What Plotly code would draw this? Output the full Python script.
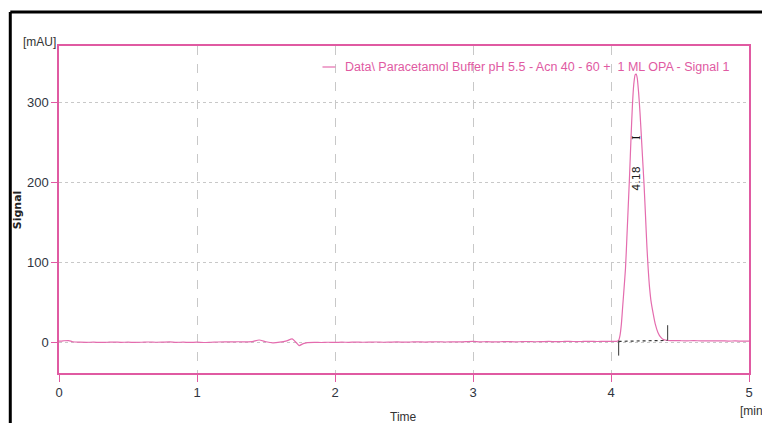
import plotly.graph_objects as go

# Chromatogram: Paracetamol, Buffer pH 5.5 - Acn 40:60 + 1 mL OPA, Signal 1
time_min = [
    0.00, 0.03, 0.07, 0.10, 0.15, 0.20, 0.25, 0.30, 0.35, 0.40, 0.45, 0.50,
    0.55, 0.60, 0.65, 0.70, 0.75, 0.80, 0.85, 0.90, 0.95, 1.00, 1.05, 1.10,
    1.15, 1.20, 1.25, 1.30, 1.35, 1.40, 1.45, 1.50, 1.55, 1.60, 1.65, 1.69,
    1.72, 1.74, 1.77, 1.80, 1.85, 1.90, 1.95, 2.00, 2.05, 2.10, 2.15, 2.20,
    2.25, 2.30, 2.35, 2.40, 2.45, 2.50, 2.55, 2.60, 2.65, 2.70, 2.75, 2.80,
    2.85, 2.90, 2.95, 3.00, 3.05, 3.10, 3.15, 3.20, 3.25, 3.30, 3.35, 3.40,
    3.45, 3.50, 3.55, 3.60, 3.65, 3.70, 3.75, 3.80, 3.85, 3.90, 3.95, 4.00,
    4.040, 4.055, 4.065, 4.075, 4.085, 4.095, 4.105, 4.115, 4.125, 4.135,
    4.145, 4.155, 4.165, 4.175, 4.182, 4.190, 4.200, 4.210, 4.220, 4.230,
    4.240, 4.250, 4.260, 4.270, 4.280, 4.290, 4.305, 4.320, 4.340, 4.360,
    4.380, 4.400, 4.430, 4.50, 4.55, 4.60, 4.65, 4.70, 4.75, 4.80, 4.85,
    4.90, 4.95, 5.00,
]
signal_mau = [
    1.0, 1.5, 1.8, 0.3, -0.2, -0.4, -0.2, -0.5, -0.3, -0.1, -0.4, -0.2,
    -0.5, -0.3, 0.0, -0.3, -0.2, 0.1, -0.4, -0.2, -0.5, -0.2, -0.6, -0.3,
    0.0, 0.2, 0.1, 0.3, 0.2, 0.4, 2.5, 0.3, -1.0, -0.2, 1.5, 3.8,
    -1.0, -4.5, -2.0, -0.8, -0.4, -0.6, -0.3, -0.5, -0.2, -0.4, -0.1, -0.3,
    -0.2, 0.0, -0.3, -0.1, 0.1, -0.2, 0.0, 0.2, -0.1, 0.1, 0.3, 0.0,
    0.2, 0.1, 0.4, 0.8, 0.2, 0.4, 0.1, 0.3, 0.5, 0.2, 0.4, 0.6,
    0.3, 0.5, 0.7, 0.4, 0.6, 0.8, 0.5, 0.7, 0.9, 0.6, 0.8, 0.7,
    0.8, 2.0, 8.0, 22.0, 45.0, 68.0, 92.0, 130.0, 170.0, 210.0,
    255.0, 295.0, 322.0, 334.0, 335.0, 330.0, 312.0, 287.0, 257.0, 226.0,
    195.0, 158.0, 120.0, 90.0, 67.0, 51.0, 36.0, 23.0, 12.0, 6.0,
    3.0, 2.2, 1.8, 1.6, 1.5, 1.7, 1.4, 1.5, 1.3, 1.4, 1.2,
    1.3, 1.1, 1.0,
]

# Integration of the main peak
peak_rt = 4.18
peak_label = "4.18"
baseline_time = [4.055, 4.41]
baseline_mau = [0.8, 2.0]
start_marker_mau = [1.6, -17.0]
end_marker_mau = [21.0, 2.5]
label_mau = 205
marker_mau = 255

trace_name = "Data\\ Paracetamol Buffer pH 5.5 - Acn 40 - 60 +  1 ML OPA - Signal 1"

x_ticks = [0, 1, 2, 3, 4, 5]
y_ticks = [0, 100, 200, 300]

PINK = "#e05aa2"
TRACE_PINK = "#e46cae"
FONT = "Liberation Sans, Arial, sans-serif"

fig = go.Figure()

fig.add_trace(go.Scatter(
    x=time_min, y=signal_mau, mode="lines", name=trace_name,
    line=dict(color=TRACE_PINK, width=1.2, shape="spline", smoothing=0.6),
    showlegend=False,
))

# dotted integration baseline under the peak
fig.add_trace(go.Scatter(
    x=baseline_time, y=baseline_mau, mode="lines",
    line=dict(color="#333333", width=1.2, dash="dot"), showlegend=False,
))
# start / end markers of the integrated peak
fig.add_trace(go.Scatter(
    x=[baseline_time[0]] * 2, y=start_marker_mau, mode="lines",
    line=dict(color="#555555", width=1.2), showlegend=False,
))
fig.add_trace(go.Scatter(
    x=[baseline_time[1]] * 2, y=end_marker_mau, mode="lines",
    line=dict(color="#555555", width=1.2), showlegend=False,
))

fig.add_annotation(x=peak_rt, y=label_mau, text=peak_label, textangle=-90,
                   showarrow=False, font=dict(family="DejaVu Sans, sans-serif",
                                              size=11, color="#222222"))
fig.add_annotation(x=peak_rt, y=marker_mau, text="I", textangle=-90,
                   showarrow=False, font=dict(family="DejaVu Serif, serif",
                                              size=11, color="#111111"))

# legend entry drawn as line + label
fig.add_shape(type="line", xref="paper", yref="paper",
              x0=(324 - 59) / 694, x1=(337 - 59) / 694,
              y0=(373 - 67) / 327, y1=(373 - 67) / 327,
              line=dict(color=TRACE_PINK, width=1.2))
fig.add_annotation(xref="paper", yref="paper", x=(345 - 59) / 694,
                   y=(373 - 67) / 327, xanchor="left", yanchor="middle",
                   text=trace_name, showarrow=False,
                   font=dict(family=FONT, size=12.5, color=PINK))

# axis titles / units
fig.add_annotation(xref="paper", yref="paper", x=(39 - 59) / 694,
                   y=(373 - 42) / 327, xanchor="center", yanchor="middle",
                   text="[mAU]", showarrow=False,
                   font=dict(family=FONT, size=12, color="#333333"))
fig.add_annotation(xref="paper", yref="paper", x=(18 - 59) / 694,
                   y=(373 - 210) / 327, xanchor="center", yanchor="middle",
                   text="<b>Signal</b>", textangle=-90, showarrow=False,
                   font=dict(family="DejaVu Sans, sans-serif", size=11, color="#222222"))
fig.add_annotation(xref="paper", yref="paper", x=(405 - 59) / 694,
                   y=(373 - 417) / 327, xanchor="center", yanchor="middle",
                   text="Time", showarrow=False,
                   font=dict(family=FONT, size=12, color="#333333"))
fig.add_annotation(xref="paper", yref="paper", x=(742 - 59) / 694,
                   y=(373 - 411) / 327, xanchor="left", yanchor="middle",
                   text="[min]", showarrow=False,
                   font=dict(family=FONT, size=12, color="#333333"))

# outer black frame (top and left edges)
fig.add_shape(type="line", xref="paper", yref="paper",
              x0=(10 - 59) / 694, x1=(775 - 59) / 694,
              y0=(373 - 12) / 327, y1=(373 - 12) / 327,
              line=dict(color="black", width=3))
fig.add_shape(type="line", xref="paper", yref="paper",
              x0=(10 - 59) / 694, x1=(10 - 59) / 694,
              y0=(373 - 12) / 327, y1=(373 - 440) / 327,
              line=dict(color="black", width=3))

axis_common = dict(
    showline=True, linecolor=PINK, linewidth=1.5, mirror=True,
    ticks="outside", tickcolor=PINK, tickwidth=1.2,
    showgrid=True, gridcolor="#c8c8c8", gridwidth=1,
    zeroline=False,
    tickfont=dict(family=FONT, size=13, color="#2e3440"),
)

fig.update_xaxes(range=[0, 5], tickvals=x_ticks, ticklen=7,
                 griddash="dash", **axis_common)
fig.update_yaxes(range=[-38.75, 370], tickvals=y_ticks, ticklen=6,
                 griddash="dot", **axis_common)

fig.update_layout(
    width=762, height=423,
    margin=dict(l=59, r=9, t=46, b=50),
    paper_bgcolor="white", plot_bgcolor="white",
    showlegend=False,
)

fig.write_html("out.html")
